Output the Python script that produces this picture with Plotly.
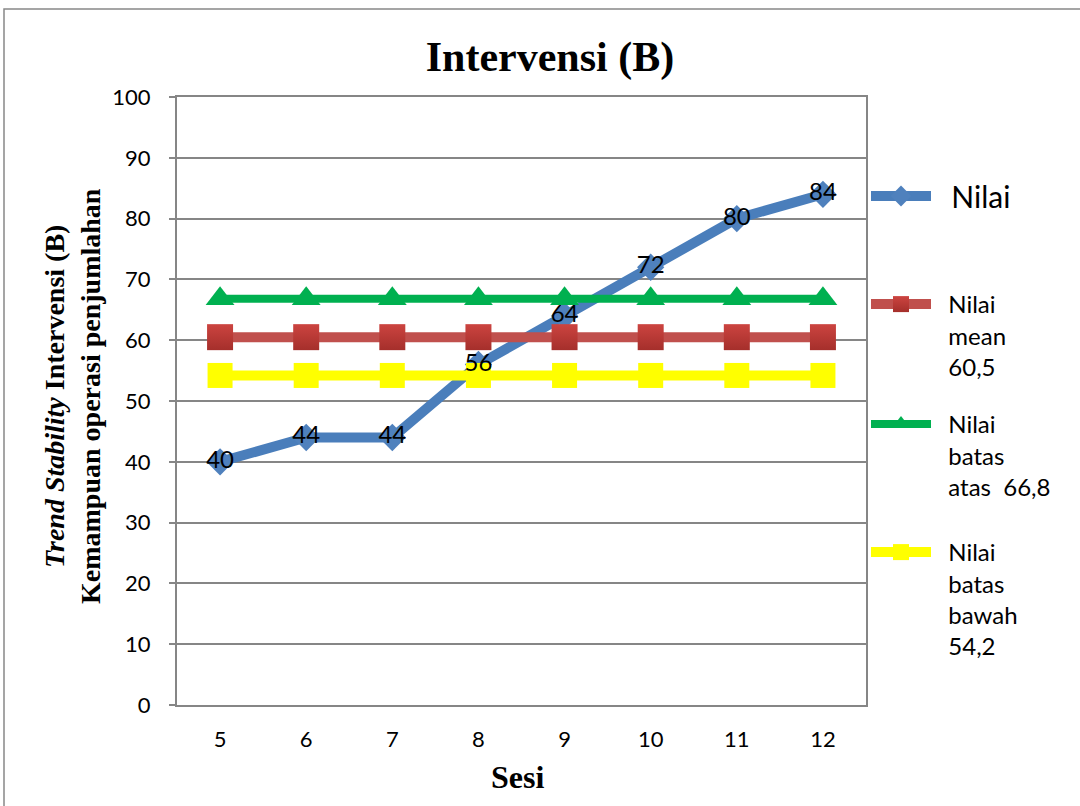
import plotly.graph_objects as go

# Session numbers (x categories) and scores
sesi = ["5", "6", "7", "8", "9", "10", "11", "12"]
nilai = [40, 44, 44, 56, 64, 72, 80, 84]

# Reference lines for the intervention phase
mean_val = 60.5
batas_atas = 66.8
batas_bawah = 54.2

y_ticks = [0, 10, 20, 30, 40, 50, 60, 70, 80, 90, 100]

W, H = 1080, 806
L, R, T, B = 177, 866, 97, 705  # plot area pixel bounds


def px_x(p):
    return (p - L) / (R - L)


def px_y(p):
    return (B - p) / (B - T)


def legend_label(lines):
    pad = "\u00a0\u00a0"
    return "<br>".join(pad + s for s in lines)


TICK_FONT = "Lato, Carlito, Calibri, sans-serif"
SERIF = "Liberation Serif, Times New Roman, serif"

fig = go.Figure()

fig.add_trace(go.Scatter(
    x=sesi, y=nilai, mode="lines+markers",
    name=legend_label(["Nilai"]),
    line=dict(color="#4A7EBB", width=10),
    marker=dict(symbol="diamond", size=21, color="#4F81BD"),
    legend="legend",
))

fig.add_trace(go.Scatter(
    x=sesi, y=[mean_val] * len(sesi), mode="lines+markers",
    name=legend_label(["Nilai", "mean", "60,5"]),
    line=dict(color="#C0504D", width=10),
    marker=dict(symbol="square", size=26, color="#CC4440",
                gradient=dict(type="vertical", color="#A52F2B")),
    legend="legend2",
))

fig.add_trace(go.Scatter(
    x=sesi, y=[batas_atas] * len(sesi), mode="lines+markers",
    name=legend_label(["Nilai", "batas", "atas  66,8"]),
    line=dict(color="#00B050", width=8),
    marker=dict(symbol="triangle-up", size=25, color="#00B050"),
    legend="legend3",
))

fig.add_trace(go.Scatter(
    x=sesi, y=[batas_bawah] * len(sesi), mode="lines+markers",
    name=legend_label(["Nilai", "batas", "bawah", "54,2"]),
    line=dict(color="#FFFF00", width=10),
    marker=dict(symbol="square", size=25, color="#FFFF00"),
    legend="legend4",
))

# Value labels of the score series, drawn on top of every line
fig.add_trace(go.Scatter(
    x=sesi, y=nilai, mode="text",
    text=[str(v) for v in nilai], textposition="middle center",
    textfont=dict(family=TICK_FONT, size=24, color="black"),
    showlegend=False, hoverinfo="skip",
))

legend_common = dict(
    xanchor="left", yanchor="top", valign="top",
    bgcolor="rgba(0,0,0,0)", itemwidth=60,
    font=dict(family=TICK_FONT, size=24, color="black"),
)

fig.update_layout(
    width=W, height=H,
    margin=dict(l=L, r=W - R, t=T, b=H - B),
    paper_bgcolor="white", plot_bgcolor="white",
    title=dict(
        text="<b>Intervensi (B)</b>",
        font=dict(family=SERIF, size=42, color="black"),
        x=px_x(550), xref="paper", xanchor="center",
        y=1 - 56 / H, yanchor="middle",
    ),
    xaxis=dict(
        type="category", range=[-0.5, 7.5],
        showgrid=False, showline=True, linecolor="#868686", linewidth=2,
        mirror=True, ticks="", ticklabelstandoff=14,
        tickfont=dict(family=TICK_FONT, size=22, color="black"),
    ),
    yaxis=dict(
        range=[0, 100], tickvals=y_ticks,
        showgrid=True, gridcolor="#868686", gridwidth=1.5,
        showline=True, linecolor="#868686", linewidth=2, mirror=True,
        ticks="outside", ticklen=6, tickcolor="#868686", tickwidth=1.5,
        ticklabelstandoff=14, zeroline=False,
        tickfont=dict(family=TICK_FONT, size=22, color="black"),
    ),
    legend=dict(x=px_x(866), y=px_y(170),
                font=dict(family=TICK_FONT, size=30, color="black"),
                xanchor="left", yanchor="top", valign="top",
                bgcolor="rgba(0,0,0,0)", itemwidth=60),
    legend2=dict(x=px_x(866), y=px_y(282), **legend_common),
    legend3=dict(x=px_x(866), y=px_y(402), **legend_common),
    legend4=dict(x=px_x(866), y=px_y(530), **legend_common),
    annotations=[
        dict(
            text="<b><i>Trend Stability</i> Intervensi (B)</b><br><b>Kemampuan operasi penjumlahan</b>",
            font=dict(family=SERIF, size=28, color="black"),
            textangle=-90, showarrow=False,
            xref="paper", yref="paper", x=px_x(72), y=px_y(396),
            xanchor="center", yanchor="middle",
        ),
        dict(
            text="<b>Sesi</b>",
            font=dict(family=SERIF, size=32, color="black"),
            showarrow=False, xref="paper", yref="paper",
            x=px_x(517), y=px_y(777), xanchor="center", yanchor="middle",
        ),
    ],
    shapes=[
        dict(type="rect", xref="paper", yref="paper",
             x0=px_x(4), x1=px_x(1090), y0=px_y(820), y1=px_y(9),
             line=dict(color="#888888", width=1.5), layer="below"),
    ],
)

fig.write_html("out.html")
